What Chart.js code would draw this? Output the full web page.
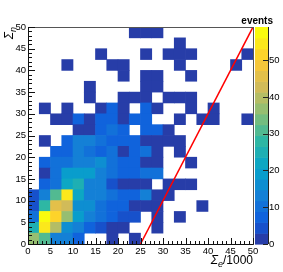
<!DOCTYPE html>
<html lang="en">
<head>
<meta charset="UTF-8">
<title>Sigma_n vs Sigma_e</title>
<script src="https://cdn.jsdelivr.net/npm/chart.js@4.4.0/dist/chart.umd.min.js"></script>
<style>
  html, body { margin: 0; padding: 0; background: #fff; }
  #wrap { position: relative; width: 283px; height: 272px; }
</style>
</head>
<body>
<div id="wrap"><canvas id="chart"></canvas></div>
<script>
// bin edges, same binning on both axes (20 bins over 0..50)
const binEdges = [0, 2.5, 5, 7.5, 10, 12.5, 15, 17.5, 20, 22.5, 25,
                  27.5, 30, 32.5, 35, 37.5, 40, 42.5, 45, 47.5, 50];

// bin contents, top row (Sigma_n 47.5-50) first, bottom row last
const counts = [
  [0, 0, 0, 0, 0, 0, 0, 0, 0, 1,  1, 1, 0, 0, 0, 0, 0, 0, 0, 0],
  [0, 0, 0, 0, 0, 0, 0, 0, 0, 0,  0, 0, 0, 1, 0, 0, 0, 0, 0, 0],
  [0, 0, 0, 0, 0, 0, 1, 0, 0, 0,  1, 0, 1, 1, 1, 0, 0, 0, 0, 1],
  [0, 0, 0, 1, 0, 0, 0, 1, 1, 0,  0, 0, 0, 1, 0, 0, 0, 0, 1, 0],
  [0, 0, 0, 0, 0, 0, 0, 0, 1, 0,  1, 1, 0, 0, 1, 0, 0, 0, 0, 0],
  [0, 0, 0, 0, 0, 1, 0, 0, 0, 0,  1, 1, 0, 0, 0, 0, 0, 0, 0, 0],
  [0, 0, 0, 0, 0, 1, 0, 0, 1, 1,  1, 0, 1, 1, 1, 0, 0, 0, 0, 0],
  [0, 1, 0, 1, 0, 0, 1, 7, 1, 0,  7, 1, 0, 0, 1, 0, 1, 0, 0, 0],
  [0, 0, 1, 1, 7, 1, 7, 7, 1, 7,  7, 0, 0, 1, 0, 1, 1, 0, 0, 1],
  [0, 0, 0, 0, 1, 1, 7, 11, 7, 0, 7, 7, 1, 0, 0, 0, 0, 0, 0, 0],
  [0, 1, 0, 7, 14, 14, 10, 7, 7, 7, 1, 1, 1, 1, 0, 0, 0, 0, 0, 0],
  [0, 0, 7, 7, 13, 10, 7, 10, 1, 7, 10, 1, 0, 1, 0, 0, 0, 0, 0, 0],
  [0, 7, 10, 10, 13, 14, 16, 10, 7, 7, 1, 1, 0, 0, 1, 0, 0, 0, 0, 0],
  [0, 1, 9, 19, 20, 18, 14, 10, 7, 8, 10, 10, 0, 0, 0, 0, 0, 0, 0, 0],
  [0, 7, 10, 23, 26, 13, 13, 4, 1, 1, 1, 0, 1, 1, 1, 0, 0, 0, 0, 0],
  [3, 13, 31, 55, 22, 14, 14, 10, 7, 7, 12, 1, 1, 0, 0, 0, 0, 0, 0, 0],
  [4, 29, 46, 43, 16, 16, 10, 7, 7, 2, 1, 1, 0, 0, 0, 1, 0, 0, 0, 0],
  [10, 58, 52, 37, 19, 13, 9, 7, 3, 3, 0, 1, 0, 1, 0, 0, 0, 0, 0, 0],
  [26, 55, 40, 16, 13, 7, 3, 1, 1, 0, 0, 1, 0, 0, 0, 0, 0, 0, 0, 0],
  [37, 30, 13, 14, 8, 0, 0, 1, 0, 1, 0, 0, 0, 0, 0, 0, 0, 0, 0, 0]
];

// red cut line
const cutX = [25, 50];
const cutY = [0, 50];

// axis ticks
const axisTicks = [0, 5, 10, 15, 20, 25, 30, 35, 40, 45, 50];
const zTicks = [0, 10, 20, 30, 40, 50];
const zMax = 59;
const nLevels = 20;

// ROOT kBird palette
const birdStops = [0.0, 0.125, 0.25, 0.375, 0.5, 0.625, 0.75, 0.875, 1.0];
const birdR = [0.2082, 0.0592, 0.0780, 0.0232, 0.1802, 0.5301, 0.8186, 0.9956, 0.9764];
const birdG = [0.1664, 0.3599, 0.5041, 0.6419, 0.7178, 0.7492, 0.7328, 0.7862, 0.9832];
const birdB = [0.5293, 0.8684, 0.8385, 0.7914, 0.6425, 0.4662, 0.3499, 0.1968, 0.0539];

function bird(t) {
  let s = 0;
  while (s < birdStops.length - 2 && t > birdStops[s + 1]) s++;
  const f = (t - birdStops[s]) / (birdStops[s + 1] - birdStops[s]);
  const c = arr => Math.round(255 * (arr[s] + (arr[s + 1] - arr[s]) * f));
  return `rgb(${c(birdR)},${c(birdG)},${c(birdB)})`;
}
function levelColor(k) {
  const idx = Math.floor((k + 0.99) * 255 / nLevels);
  return bird(Math.min(idx, 254) / 254);
}
function zColor(v) {
  const k = Math.min(nLevels - 1, Math.floor(v / (zMax / nLevels)));
  return levelColor(k);
}

const cells = [];
counts.forEach((row, r) => {
  const j = counts.length - 1 - r;
  row.forEach((v, i) => {
    if (v > 0) {
      cells.push({ x: (binEdges[i] + binEdges[i + 1]) / 2, y: [binEdges[j], binEdges[j + 1]], v: v });
    }
  });
});

const font = 'Liberation Sans, Arial, Helvetica, sans-serif';

const rootDecor = {
  id: 'rootDecor',
  afterDatasetsDraw(chart) {
    const { ctx, chartArea: a, scales: { x, y, z } } = chart;
    ctx.save();
    // colour bar
    const bx = a.right + 2, bw = 13;
    for (let k = 0; k < nLevels; k++) {
      const lo = z.getPixelForValue(k * zMax / nLevels);
      const hi = z.getPixelForValue((k + 1) * zMax / nLevels);
      ctx.fillStyle = levelColor(k);
      ctx.fillRect(bx, hi, bw, lo - hi + 0.6);
    }
    ctx.strokeStyle = '#222';
    ctx.lineWidth = 1;
    ctx.beginPath();
    ctx.moveTo(bx + bw + 0.5, a.top);
    ctx.lineTo(bx + bw + 0.5, a.bottom);
    zTicks.forEach(t => {
      const py = Math.round(z.getPixelForValue(t)) + 0.5;
      ctx.moveTo(bx + bw, py);
      ctx.lineTo(bx + bw - 5, py);
    });
    ctx.stroke();

    // frame
    ctx.strokeStyle = '#555';
    ctx.strokeRect(a.left + 0.5, a.top + 0.5, a.right - a.left, a.bottom - a.top);
    ctx.strokeStyle = '#111';
    ctx.beginPath();
    ctx.moveTo(a.left + 0.5, a.top);
    ctx.lineTo(a.left + 0.5, a.bottom + 0.5);
    ctx.lineTo(a.right + 0.5, a.bottom + 0.5);
    // major and minor ticks, drawn inwards like ROOT
    for (let v = 0; v <= 50; v++) {
      const len = v % 5 === 0 ? 6 : 3;
      const px = Math.round(x.getPixelForValue(v)) + 0.5;
      ctx.moveTo(px, a.bottom);
      ctx.lineTo(px, a.bottom - len);
      const py = Math.round(y.getPixelForValue(v)) + 0.5;
      ctx.moveTo(a.left, py);
      ctx.lineTo(a.left + len + 1, py);
    }
    ctx.stroke();
    ctx.restore();
  },
  afterDraw(chart) {
    const { ctx, chartArea: a } = chart;
    ctx.save();
    ctx.fillStyle = '#000';
    ctx.textBaseline = 'alphabetic';

    // x title: Sigma_e/1000, right aligned
    const xParts = [
      { t: 'Σ', f: 'italic 12px ' + font, dy: 0 },
      { t: 'e', f: 'italic 9px ' + font, dy: 3 },
      { t: '/1000', f: '12px ' + font, dy: 0 }
    ];
    let w = 0;
    xParts.forEach(p => { ctx.font = p.f; w += ctx.measureText(p.t).width; });
    let cx = a.right - w;
    xParts.forEach(p => {
      ctx.font = p.f;
      ctx.fillText(p.t, cx, 264 + p.dy);
      cx += ctx.measureText(p.t).width;
    });

    // y title: Sigma_n, rotated, at top end
    const yParts = [
      { t: 'Σ', f: 'italic 12px ' + font, dy: 0 },
      { t: 'n', f: 'italic 9px ' + font, dy: 3 }
    ];
    ctx.translate(13, a.top);
    ctx.rotate(-Math.PI / 2);
    w = 0;
    yParts.forEach(p => { ctx.font = p.f; w += ctx.measureText(p.t).width; });
    cx = -w;
    yParts.forEach(p => {
      ctx.font = p.f;
      ctx.fillText(p.t, cx, p.dy);
      cx += ctx.measureText(p.t).width;
    });
    ctx.setTransform(1, 0, 0, 1, 0, 0);

    // palette title
    ctx.font = 'bold 10px ' + font;
    ctx.textAlign = 'right';
    ctx.fillText('events', 273, 24);
    ctx.restore();
  }
};

window.onload = function() {
  const ctx = document.getElementById('chart').getContext('2d');

  const chart = new Chart(ctx, {
    type: 'bar',
    data: {
      datasets: [
        {
          type: 'line',
          label: 'cut',
          data: cutX.map((v, i) => ({ x: v, y: cutY[i] })),
          borderColor: '#ff0000',
          borderWidth: 1.5,
          pointRadius: 0,
          order: 0,
          yAxisID: 'y'
        },
        {
          label: 'events',
          data: cells,
          backgroundColor: c => zColor(c.raw ? c.raw.v : 0),
          borderWidth: 0,
          barPercentage: 1,
          categoryPercentage: 1,
          order: 1,
          yAxisID: 'y'
        }
      ]
    },
    options: {
      responsive: true,
      maintainAspectRatio: false,
      animation: false,
      layout: { padding: { top: 27, left: 0, right: 0, bottom: 0 } },
      plugins: {
        legend: { display: false },
        tooltip: { enabled: false }
      },
      scales: {
        x: {
          type: 'linear',
          min: 0,
          max: 50,
          offset: false,
          grid: { display: false, drawTicks: false, offset: false },
          border: { display: false },
          afterBuildTicks: s => { s.ticks = axisTicks.map(v => ({ value: v })); },
          afterFit: s => { s.height = 28; },
          ticks: {
            padding: 2,
            maxRotation: 0,
            autoSkip: false,
            color: '#000',
            font: { family: font, size: 9.5 }
          }
        },
        y: {
          type: 'linear',
          min: 0,
          max: 50,
          grid: { display: false, drawTicks: false },
          border: { display: false },
          afterBuildTicks: s => { s.ticks = axisTicks.map(v => ({ value: v })); },
          afterFit: s => { s.width = 28; },
          ticks: {
            padding: 2,
            autoSkip: false,
            color: '#000',
            font: { family: font, size: 9.5 }
          }
        },
        z: {
          type: 'linear',
          position: 'right',
          min: 0,
          max: zMax,
          grid: { display: false, drawTicks: false },
          border: { display: false },
          afterBuildTicks: s => { s.ticks = zTicks.map(v => ({ value: v })); },
          afterFit: s => { s.width = 30; },
          ticks: {
            padding: 16,
            autoSkip: false,
            color: '#000',
            font: { family: font, size: 9.5 }
          }
        }
      }
    },
    plugins: [rootDecor]
  });
};
</script>
</body>
</html>
